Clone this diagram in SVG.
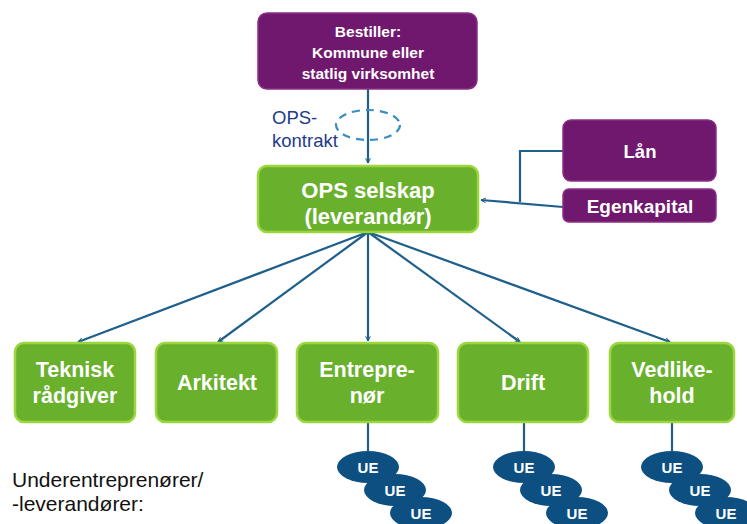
<svg xmlns="http://www.w3.org/2000/svg" width="747" height="524" viewBox="0 0 747 524">
<style>
.p{fill:#6f186e;stroke:#8a2e88;stroke-width:1.5}
.g{fill:#69b12d;stroke:#9ad63c;stroke-width:2.5}
.t{font-family:"Liberation Sans",Arial,sans-serif;font-weight:bold;fill:#fff;text-anchor:middle}
.c{stroke:#1e5f8c;stroke-width:2.2;fill:none}
.ue{fill:#0d4f80}
.u{font-size:15px}
.b{font-size:21.5px}
</style>
<defs>
<marker id="a" viewBox="0 0 10 10" refX="9" refY="5" markerWidth="6" markerHeight="6" orient="auto" markerUnits="userSpaceOnUse">
<path d="M1,1 L9,5 L1,9" fill="none" stroke="#1e5f8c" stroke-width="1.6"/>
</marker>
</defs>
<rect width="747" height="524" fill="#fff"/>
<g id="connectors">
<line class="c" x1="368" y1="89" x2="368" y2="163" marker-end="url(#a)"/>
<ellipse cx="368" cy="125" rx="32" ry="15" fill="none" stroke="#3b8ec0" stroke-width="2.2" stroke-dasharray="8,6"/>
<polyline class="c" points="563,151 520,151 520,202"/>
<line class="c" x1="563" y1="207" x2="481" y2="200" marker-end="url(#a)"/>
<line class="c" x1="368" y1="232" x2="78" y2="342" marker-end="url(#a)"/>
<line class="c" x1="368" y1="232" x2="218" y2="342" marker-end="url(#a)"/>
<line class="c" x1="368" y1="232" x2="368" y2="341" marker-end="url(#a)"/>
<line class="c" x1="368" y1="232" x2="520" y2="342" marker-end="url(#a)"/>
<line class="c" x1="368" y1="232" x2="670" y2="342" marker-end="url(#a)"/>
<line class="c" x1="368" y1="422" x2="368" y2="456"/>
<line class="c" x1="524" y1="422" x2="524" y2="456"/>
<line class="c" x1="672" y1="422" x2="672" y2="456"/>
</g>
<g id="bestiller">
<rect class="p" x="258" y="13" width="219" height="76" rx="9"/>
<text class="t" font-size="15.5"><tspan x="368" y="37">Bestiller:</tspan><tspan x="368" y="58">Kommune  eller</tspan><tspan x="368" y="79">statlig  virksomhet</tspan></text>
</g>
<g id="opskontrakt">
<text font-family="'Liberation Sans',Arial,sans-serif" font-size="18.5" fill="#1f3b8a"><tspan x="272" y="124">OPS-</tspan><tspan x="272" y="147">kontrakt</tspan></text>
</g>
<g id="ops">
<rect class="g" x="258" y="166" width="220" height="66" rx="9"/>
<text class="t" font-size="22"><tspan x="368" y="198">OPS selskap</tspan><tspan x="368" y="224">(leverandør)</tspan></text>
</g>
<g id="laan">
<rect class="p" x="563" y="120" width="153" height="61" rx="8"/>
<text class="t" font-size="18.5" x="640" y="158">Lån</text>
</g>
<g id="egenkapital">
<rect class="p" x="563" y="189" width="153" height="33" rx="6"/>
<text class="t" font-size="19" x="640" y="213">Egenkapital</text>
</g>
<g id="teknisk">
<rect class="g" x="15" y="343" width="120" height="79" rx="9"/>
<text class="t b"><tspan x="75" y="377">Teknisk</tspan><tspan x="75" y="403">rådgiver</tspan></text>
</g>
<g id="arkitekt">
<rect class="g" x="156" y="343" width="121" height="79" rx="9"/>
<text class="t b" x="217" y="390">Arkitekt</text>
</g>
<g id="entreprenor">
<rect class="g" x="297" y="343" width="141" height="79" rx="9"/>
<text class="t b"><tspan x="367" y="377">Entrepre-</tspan><tspan x="367" y="403">nør</tspan></text>
</g>
<g id="drift">
<rect class="g" x="458" y="343" width="130" height="79" rx="9"/>
<text class="t b" x="523" y="390">Drift</text>
</g>
<g id="vedlikehold">
<rect class="g" x="610" y="343" width="124" height="79" rx="9"/>
<text class="t b"><tspan x="672" y="377">Vedlike-</tspan><tspan x="672" y="403">hold</tspan></text>
</g>
<g id="ue-entreprenor">
<ellipse class="ue" cx="368" cy="467" rx="31" ry="16"/>
<text class="t u" x="368" y="473">UE</text>
<ellipse class="ue" cx="395" cy="490" rx="31" ry="16"/>
<text class="t u" x="395" y="496">UE</text>
<ellipse class="ue" cx="421" cy="513" rx="31" ry="16"/>
<text class="t u" x="421" y="519">UE</text>
</g>
<g id="ue-drift">
<ellipse class="ue" cx="524" cy="467" rx="31" ry="16"/>
<text class="t u" x="524" y="473">UE</text>
<ellipse class="ue" cx="551" cy="490" rx="31" ry="16"/>
<text class="t u" x="551" y="496">UE</text>
<ellipse class="ue" cx="577" cy="513" rx="31" ry="16"/>
<text class="t u" x="577" y="519">UE</text>
</g>
<g id="ue-vedlikehold">
<ellipse class="ue" cx="672" cy="467" rx="31" ry="16"/>
<text class="t u" x="672" y="473">UE</text>
<ellipse class="ue" cx="700" cy="490" rx="31" ry="16"/>
<text class="t u" x="700" y="496">UE</text>
<ellipse class="ue" cx="726" cy="513" rx="31" ry="16"/>
<text class="t u" x="726" y="519">UE</text>
</g>
<g id="underentreprenorer">
<text font-family="'Liberation Sans',Arial,sans-serif" font-size="21" fill="#111"><tspan x="12" y="487">Underentreprenører/</tspan><tspan x="12" y="511">-leverandører:</tspan></text>
</g>
</svg>
